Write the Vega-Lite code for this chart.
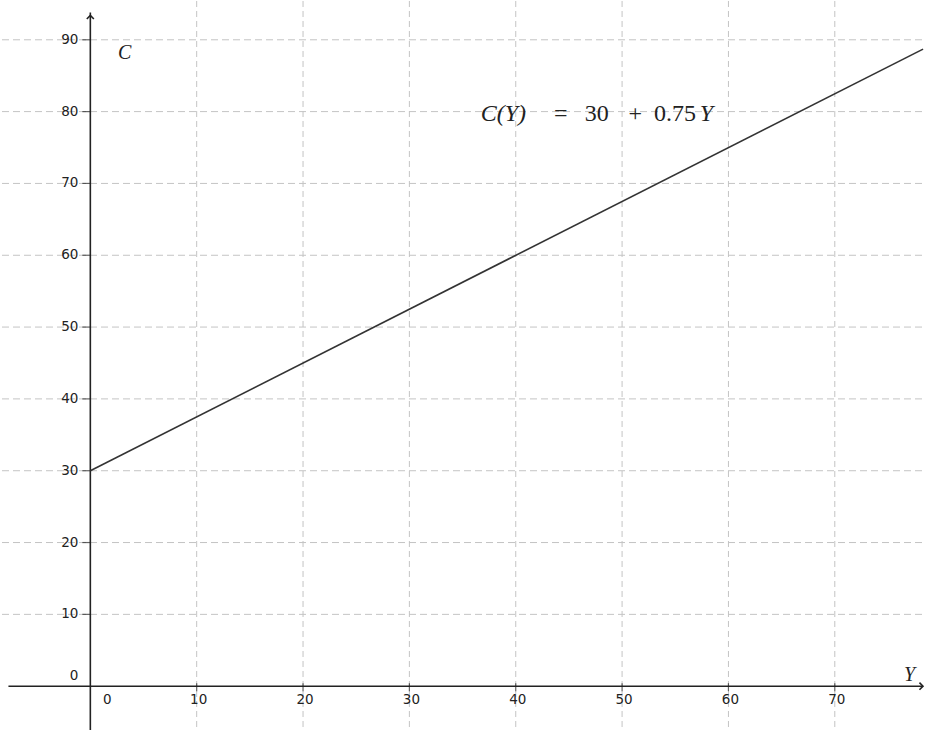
{
  "$schema": "https://vega.github.io/schema/vega-lite/v6.json",
  "width": 927,
  "height": 731,
  "autosize": {"type": "fit", "contains": "padding"},
  "padding": 0,
  "background": "white",
  "config": {"view": {"stroke": null}},
  "datasets": {
    "vgrid": [{"v": 10}, {"v": 20}, {"v": 30}, {"v": 40}, {"v": 50}, {"v": 60}, {"v": 70}],
    "hgrid": [{"v": 10}, {"v": 20}, {"v": 30}, {"v": 40}, {"v": 50}, {"v": 60}, {"v": 70}, {"v": 80}, {"v": 90}],
    "xlabels": [{"v": 10, "t": "10"}, {"v": 20, "t": "20"}, {"v": 30, "t": "30"}, {"v": 40, "t": "40"}, {"v": 50, "t": "50"}, {"v": 60, "t": "60"}, {"v": 70, "t": "70"}],
    "ylabels": [{"v": 10, "t": "10"}, {"v": 20, "t": "20"}, {"v": 30, "t": "30"}, {"v": 40, "t": "40"}, {"v": 50, "t": "50"}, {"v": 60, "t": "60"}, {"v": 70, "t": "70"}, {"v": 80, "t": "80"}, {"v": 90, "t": "90"}],
    "line": [{"Y": 0, "C": 30}, {"Y": 78.3, "C": 88.7}],
    "eq": [
      {"x": 36.7, "y": 79.7, "t": "C(Y)", "s": "italic"},
      {"x": 43.6, "y": 79.7, "t": "=", "s": "normal"},
      {"x": 46.5, "y": 79.7, "t": "30", "s": "normal"},
      {"x": 50.6, "y": 79.7, "t": "+", "s": "normal"},
      {"x": 53.0, "y": 79.7, "t": "0.75", "s": "normal"},
      {"x": 57.3, "y": 79.7, "t": "Y", "s": "italic"}
    ]
  },
  "layer": [
    {
      "data": {"name": "vgrid"},
      "mark": {"type": "rule", "color": "#c4c4c4", "strokeWidth": 1, "strokeDash": [6, 4]},
      "encoding": {
        "x": {"field": "v", "type": "quantitative", "scale": {"domain": [-8.4, 78.2], "nice": false, "zero": false}, "axis": null}
      }
    },
    {
      "data": {"name": "hgrid"},
      "mark": {"type": "rule", "color": "#c4c4c4", "strokeWidth": 1, "strokeDash": [7, 4]},
      "encoding": {
        "y": {"field": "v", "type": "quantitative", "scale": {"domain": [-6.1, 95.4], "nice": false, "zero": false}, "axis": null}
      }
    },
    {
      "data": {"values": [{"x": 0, "y1": -6.1, "y2": 93.8}]},
      "mark": {"type": "rule", "color": "#222222", "strokeWidth": 1.6},
      "encoding": {
        "x": {"field": "x", "type": "quantitative"},
        "y": {"field": "y1", "type": "quantitative"},
        "y2": {"field": "y2"}
      }
    },
    {
      "data": {"values": [{"y": 0, "x1": -7.7, "x2": 78.2}]},
      "mark": {"type": "rule", "color": "#222222", "strokeWidth": 1.6},
      "encoding": {
        "y": {"field": "y", "type": "quantitative"},
        "x": {"field": "x1", "type": "quantitative"},
        "x2": {"field": "x2"}
      }
    },
    {
      "data": {"name": "ylabels"},
      "mark": {"type": "tick", "orient": "horizontal", "color": "#222222", "size": 8, "thickness": 1.2, "xOffset": -4},
      "encoding": {
        "y": {"field": "v", "type": "quantitative"},
        "x": {"datum": 0, "type": "quantitative"}
      }
    },
    {
      "data": {"name": "xlabels"},
      "mark": {"type": "tick", "orient": "vertical", "color": "#222222", "size": 8, "thickness": 1.2, "yOffset": 1},
      "encoding": {
        "x": {"field": "v", "type": "quantitative"},
        "y": {"datum": 0, "type": "quantitative"}
      }
    },
    {
      "data": {"name": "line"},
      "mark": {"type": "line", "color": "#333333", "strokeWidth": 1.6},
      "encoding": {
        "x": {"field": "Y", "type": "quantitative"},
        "y": {"field": "C", "type": "quantitative"}
      }
    },
    {
      "data": {"values": [{"x": 0, "y": 93.8}]},
      "mark": {"type": "point", "shape": "M-1,1L0,0L1,1", "size": 50, "filled": false, "color": "#222222", "strokeWidth": 1.6, "opacity": 1, "yOffset": 3},
      "encoding": {
        "x": {"field": "x", "type": "quantitative"},
        "y": {"field": "y", "type": "quantitative"}
      }
    },
    {
      "data": {"values": [{"x": 78.2, "y": 0}]},
      "mark": {"type": "point", "shape": "M-1,-1L0,0L-1,1", "size": 50, "filled": false, "color": "#222222", "strokeWidth": 1.6, "opacity": 1, "xOffset": 1},
      "encoding": {
        "x": {"field": "x", "type": "quantitative"},
        "y": {"field": "y", "type": "quantitative"}
      }
    },
    {
      "data": {"name": "ylabels"},
      "mark": {"type": "text", "align": "right", "baseline": "middle", "dx": -12, "font": "DejaVu Sans", "fontSize": 13.5, "color": "#222222"},
      "encoding": {
        "y": {"field": "v", "type": "quantitative"},
        "x": {"datum": 0, "type": "quantitative"},
        "text": {"field": "t"}
      }
    },
    {
      "data": {"name": "xlabels"},
      "mark": {"type": "text", "align": "center", "baseline": "middle", "dy": 14, "dx": 2, "font": "DejaVu Sans", "fontSize": 13.5, "color": "#222222"},
      "encoding": {
        "x": {"field": "v", "type": "quantitative"},
        "y": {"datum": 0, "type": "quantitative"},
        "text": {"field": "t"}
      }
    },
    {
      "data": {"values": [{"x": 0, "y": 0, "t": "0"}]},
      "mark": {"type": "text", "align": "center", "baseline": "middle", "dy": 14, "dx": 17, "font": "DejaVu Sans", "fontSize": 13.5, "color": "#222222"},
      "encoding": {
        "x": {"field": "x", "type": "quantitative"},
        "y": {"field": "y", "type": "quantitative"},
        "text": {"field": "t"}
      }
    },
    {
      "data": {"values": [{"x": 0, "y": 0, "t": "0"}]},
      "mark": {"type": "text", "align": "right", "baseline": "middle", "dy": -10, "dx": -12, "font": "DejaVu Sans", "fontSize": 13.5, "color": "#222222"},
      "encoding": {
        "x": {"field": "x", "type": "quantitative"},
        "y": {"field": "y", "type": "quantitative"},
        "text": {"field": "t"}
      }
    },
    {
      "data": {"values": [{"x": 2.6, "y": 88.2, "t": "C"}, {"x": 76.5, "y": 1.6, "t": "Y"}]},
      "mark": {"type": "text", "align": "left", "baseline": "middle", "font": "Liberation Serif", "fontStyle": "italic", "fontSize": 20, "color": "#222222"},
      "encoding": {
        "x": {"field": "x", "type": "quantitative"},
        "y": {"field": "y", "type": "quantitative"},
        "text": {"field": "t"}
      }
    },
    {
      "data": {"name": "eq"},
      "transform": [{"filter": "datum.s === 'italic'"}],
      "mark": {"type": "text", "align": "left", "baseline": "middle", "font": "Liberation Serif", "fontStyle": "italic", "fontSize": 24, "color": "#222222"},
      "encoding": {
        "x": {"field": "x", "type": "quantitative"},
        "y": {"field": "y", "type": "quantitative"},
        "text": {"field": "t"}
      }
    },
    {
      "data": {"name": "eq"},
      "transform": [{"filter": "datum.s === 'normal'"}],
      "mark": {"type": "text", "align": "left", "baseline": "middle", "font": "Liberation Serif", "fontSize": 24, "color": "#222222"},
      "encoding": {
        "x": {"field": "x", "type": "quantitative"},
        "y": {"field": "y", "type": "quantitative"},
        "text": {"field": "t"}
      }
    }
  ]
}
